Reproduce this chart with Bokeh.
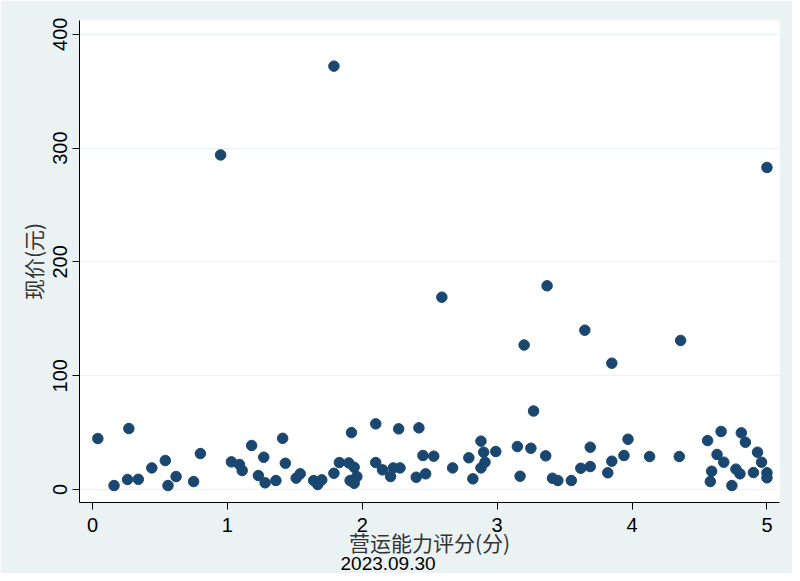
from bokeh.plotting import figure
from bokeh.models import Range1d, FixedTicker, Title
from bokeh.embed import file_html
from bokeh.resources import INLINE

# 营运能力评分(分)
score = [0.95, 1.79, 5.00, 2.59, 3.20, 3.37, 3.65, 3.85, 4.36, 3.27,
         0.04, 0.27, 0.16, 0.26, 0.34, 0.44, 0.54, 0.56, 0.62, 0.75,
         0.80, 1.03, 1.09, 1.11, 1.18, 1.23, 1.27, 1.28, 1.36, 1.41,
         1.43, 1.51, 1.54, 1.64, 1.67, 1.70, 1.79, 1.83, 1.90, 1.92,
         1.94, 1.91, 1.96, 1.94, 2.10, 2.10, 2.15, 2.21, 2.23, 2.28,
         2.27, 2.42, 2.40, 2.45, 2.47, 2.53, 2.67, 2.79, 2.82, 2.88,
         2.90, 2.91, 2.88, 2.99, 3.15, 3.17, 3.25, 3.36, 3.41, 3.45,
         3.55, 3.62, 3.69, 3.69, 3.85, 3.82, 3.94, 3.97, 4.13, 4.35,
         4.56, 4.59, 4.58, 4.66, 4.63, 4.68, 4.74, 4.77, 4.80, 4.81,
         4.84, 4.90, 4.93, 4.96, 5.00, 5.00]
# 现价(元)
price = [294, 372, 283, 169, 127, 179, 140, 111, 131, 69,
         44.8, 53.6, 3.5, 8.8, 9.0, 19.0, 25.5, 3.5, 11.4, 7.0,
         31.6, 24.3, 22.0, 16.7, 38.7, 12.3, 28.4, 5.9, 7.9, 45.0,
         23.1, 10.0, 13.8, 7.9, 4.4, 8.5, 14.3, 23.7, 23.4, 50.0,
         19.6, 7.9, 11.4, 5.5, 57.7, 23.7, 17.3, 11.4, 19.0, 19.0,
         53.3, 54.2, 10.8, 29.9, 13.8, 29.3, 19.0, 27.9, 9.4, 42.5,
         32.8, 24.0, 19.0, 33.4, 37.8, 11.7, 36.3, 29.6, 9.9, 7.9,
         7.9, 18.7, 20.2, 37.2, 24.9, 14.7, 29.9, 44.2, 29.0, 29.0,
         43.0, 16.1, 7.0, 51.0, 30.8, 24.0, 3.5, 17.9, 13.8, 49.8,
         41.6, 14.9, 32.8, 24.0, 14.7, 10.3]

x_ticks = [0, 1, 2, 3, 4, 5]
y_ticks = [0, 100, 200, 300, 400]
x_title = "营运能力评分(分)"
y_title = "现价(元)"
note = "2023.09.30"

BG = "#EAF2F3"
NAVY = "#1A476F"
CJK = "Noto Sans CJK SC"
NUM = "Liberation Sans"

p = figure(width=792, height=573, output_backend="svg", toolbar_location=None,
           x_range=Range1d(-0.096, 5.093), y_range=Range1d(-11.4, 412.1),
           min_border_left=79, min_border_right=13, min_border_top=20,
           min_border_bottom=71)
p.border_fill_color = BG
p.background_fill_color = "white"
p.outline_line_color = None

p.scatter(score, price, size=10.5, fill_color=NAVY, line_color=NAVY)

p.xgrid.grid_line_color = None
p.ygrid.grid_line_color = "#EAF2F3"
p.ygrid.grid_line_width = 1.2

for ax in (p.xaxis[0], p.yaxis[0]):
    ax.axis_line_color = "black"
    ax.major_tick_line_color = "black"
    ax.major_tick_out = 7
    ax.major_tick_in = 0
    ax.minor_tick_line_color = None
    ax.major_label_text_font = NUM
    ax.major_label_text_font_size = "20px"
    ax.major_label_text_color = "black"
    ax.axis_label_text_font = CJK
    ax.axis_label_text_font_size = "21px"
    ax.axis_label_text_font_style = "normal"
    ax.axis_label_text_color = "#333333"

p.xaxis.ticker = FixedTicker(ticks=x_ticks)
p.yaxis.ticker = FixedTicker(ticks=y_ticks)
p.xaxis.axis_label = x_title
p.yaxis.axis_label = y_title
p.yaxis.major_label_orientation = "vertical"
p.xaxis.major_label_standoff = 8
p.yaxis.major_label_standoff = 5
p.xaxis.axis_label_standoff = -8
p.yaxis.axis_label_standoff = 3

note_title = Title(text=note, align="left", offset=261, text_font=NUM,
                   text_font_size="19px", text_font_style="normal",
                   text_color="black", standoff=-10)
p.add_layout(note_title, "below")

open("out.html", "w").write(file_html(p, INLINE))
